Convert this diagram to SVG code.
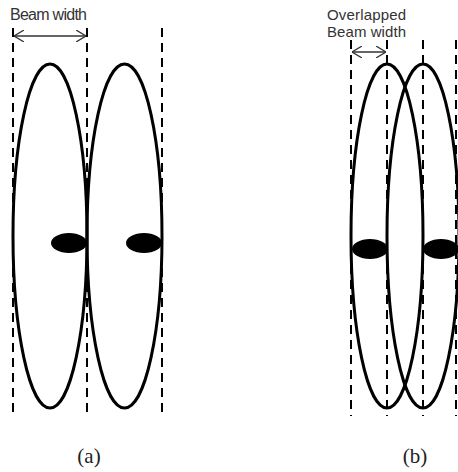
<svg xmlns="http://www.w3.org/2000/svg" width="458" height="472" viewBox="0 0 458 472">
<style>
.dash{stroke:#000;stroke-width:2;stroke-dasharray:9 6;fill:none}
.beam{stroke:#000;stroke-width:3;fill:none}
.blob{fill:#000}
.lbl{font-family:"Liberation Sans",Arial,sans-serif;font-size:16px;fill:#333}
.lbl2{font-family:"Liberation Sans",Arial,sans-serif;font-size:15px;fill:#333}
.cap{font-family:"Liberation Serif","DejaVu Serif",serif;font-size:21px;fill:#222;text-anchor:middle}
.dim{stroke:#333;stroke-width:1.3;fill:none}
</style>
<defs>
<marker id="ah" viewBox="0 0 10 12" refX="10" refY="6" markerWidth="10" markerHeight="12" markerUnits="userSpaceOnUse" orient="auto-start-reverse">
<path d="M0,0 L10,6 L0,12" fill="none" stroke="#333" stroke-width="1.3"/>
</marker>
</defs>
<g id="connectors">
<line class="dash" x1="13" y1="28" x2="13" y2="416"/>
<line class="dash" x1="87" y1="28" x2="87" y2="416"/>
<line class="dash" x1="162" y1="28" x2="162" y2="416"/>
<line class="dash" x1="351" y1="40" x2="351" y2="416"/>
<line class="dash" x1="387" y1="40" x2="387" y2="416"/>
<line class="dash" x1="423" y1="40" x2="423" y2="416"/>
<line class="dash" x1="456" y1="40" x2="456" y2="416"/>
<line class="dim" x1="14" y1="36" x2="86" y2="36" marker-start="url(#ah)" marker-end="url(#ah)"/>
<line class="dim" x1="352" y1="52" x2="386" y2="52" marker-start="url(#ah)" marker-end="url(#ah)"/>
</g>
<g id="beam-a1"><ellipse class="beam" cx="50" cy="236" rx="37" ry="172"/><ellipse class="blob" cx="69" cy="243" rx="18" ry="10"/></g>
<g id="beam-a2"><ellipse class="beam" cx="124.5" cy="236" rx="37.5" ry="172"/><ellipse class="blob" cx="144" cy="243" rx="18" ry="10"/></g>
<g id="beam-b1"><ellipse class="beam" cx="387" cy="236" rx="36" ry="172"/><ellipse class="blob" cx="370" cy="249" rx="18" ry="10"/></g>
<g id="beam-b2"><ellipse class="beam" cx="423" cy="236" rx="36" ry="172"/><ellipse class="blob" cx="441" cy="249" rx="18" ry="10"/></g>
<g id="label-a"><text class="lbl" x="10" y="20" textLength="77">Beam width</text></g>
<g id="label-b"><text class="lbl2" x="327" y="20" textLength="79">Overlapped</text><text class="lbl2" x="327" y="37" textLength="79">Beam width</text></g>
<g id="cap-a"><text class="cap" x="89" y="463">(a)</text></g>
<g id="cap-b"><text class="cap" x="415" y="463">(b)</text></g>
</svg>
